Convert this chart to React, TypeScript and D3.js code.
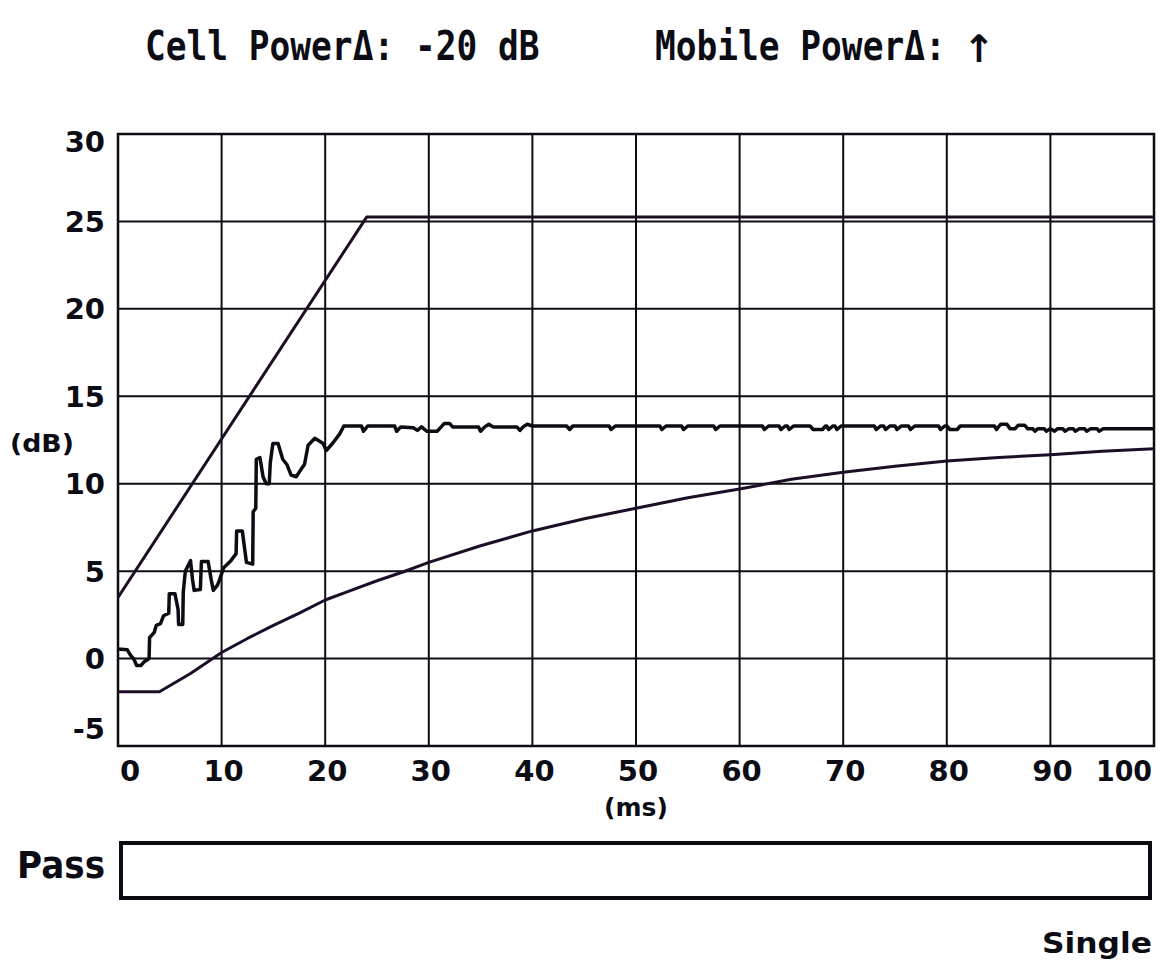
import React from "react";
import * as d3 from "d3";

// Power-step response trace: time (ms) vs relative power (dB)
const xTicks = [0, 10, 20, 30, 40, 50, 60, 70, 80, 90, 100];
const yTicks = [30, 25, 20, 15, 10, 5, 0, -5];

// Upper limit mask
const upperLimit: [number, number][] = [
  [0, 3.5], [24, 25.25], [100, 25.25],
];

// Lower limit mask
const lowerLimit: [number, number][] = [
  [0, -1.9], [4, -1.9], [7, -0.85], [10, 0.35], [12.5, 1.15], [15, 1.9],
  [17.5, 2.6], [20, 3.35], [22.5, 3.9], [25, 4.45], [27.5, 4.95], [30, 5.5],
  [35, 6.45], [40, 7.3], [45, 8.0], [50, 8.6], [55, 9.2], [60, 9.7],
  [65, 10.25], [70, 10.65], [75, 11.0], [80, 11.3], [85, 11.5], [90, 11.65],
  [95, 11.85], [100, 12.0],
];

// Measured mobile power
const measured: [number, number][] = [
  [0, 0.55], [0.9, 0.5], [1.2, 0.2], [1.5, 0.0], [1.8, -0.4], [2.2, -0.4], [2.5, -0.2],
  [3.0, 0.0], [3.05, 1.2], [3.5, 1.5], [3.7, 1.9], [4.1, 2.0], [4.4, 2.45], [4.9, 2.6],
  [4.95, 3.7], [5.5, 3.7], [5.8, 2.8], [5.85, 1.95], [6.25, 1.95], [6.3, 3.8], [6.5, 5.0],
  [7.0, 5.6], [7.2, 4.5], [7.35, 3.9], [7.95, 3.95], [8.05, 5.55], [8.7, 5.55], [9.0, 4.5],
  [9.2, 3.9], [9.6, 4.2], [9.8, 4.5], [10.2, 5.2], [10.9, 5.6], [11.4, 6.0], [11.45, 7.3],
  [12.0, 7.3], [12.2, 6.4], [12.4, 5.5], [13.0, 5.4], [13.05, 8.4], [13.3, 8.6],
  [13.35, 11.4], [13.7, 11.5], [14.0, 10.4], [14.3, 10.0], [14.6, 10.0], [14.7, 11.2],
  [14.95, 12.3], [15.45, 12.3], [15.9, 11.4], [16.3, 11.1], [16.7, 10.5], [17.2, 10.4],
  [17.7, 10.85], [18.0, 11.1], [18.35, 12.2], [19.0, 12.6], [19.8, 12.3], [20.1, 11.9],
  [20.7, 12.3], [21.4, 12.85], [21.8, 13.3], [23.5, 13.3], [23.7, 13.0], [24.1, 13.3],
  [26.7, 13.3], [26.9, 13.0], [27.3, 13.25], [28.5, 13.2], [28.9, 13.05], [29.3, 13.25],
  [29.8, 13.0], [30.8, 13.0], [31.2, 13.25], [31.5, 13.45], [32.0, 13.45], [32.3, 13.25],
  [34.8, 13.25], [35.0, 13.0], [35.4, 13.25], [35.8, 13.4], [36.2, 13.25], [38.5, 13.25],
  [38.8, 13.05], [39.1, 13.25], [39.5, 13.4], [40.0, 13.3], [43.3, 13.3], [43.6, 13.1],
  [43.9, 13.3], [47.4, 13.3], [47.6, 13.1], [48.0, 13.3], [52.3, 13.3], [52.5, 13.1],
  [52.9, 13.3], [54.4, 13.3], [54.6, 13.1], [55.0, 13.3], [57.5, 13.3], [57.7, 13.1],
  [58.1, 13.3], [62.2, 13.3], [62.4, 13.1], [62.8, 13.3], [63.8, 13.3], [64.0, 13.1],
  [64.4, 13.3], [64.6, 13.3], [64.8, 13.1], [65.2, 13.3], [66.8, 13.3], [67.1, 13.1],
  [68.0, 13.1], [68.3, 13.3], [68.4, 13.3], [68.6, 13.1], [69.0, 13.3], [69.2, 13.3],
  [69.4, 13.1], [69.8, 13.3], [73.0, 13.3], [73.2, 13.1], [73.6, 13.3], [73.9, 13.3],
  [74.1, 13.1], [74.5, 13.3], [75.0, 13.3], [75.2, 13.1], [75.6, 13.3], [76.3, 13.3],
  [76.5, 13.1], [76.9, 13.3], [79.2, 13.3], [79.4, 13.1], [79.8, 13.3], [80.0, 13.3],
  [80.3, 13.1], [81.0, 13.1], [81.3, 13.3], [84.6, 13.3], [84.8, 13.1], [85.2, 13.4],
  [85.8, 13.4], [86.1, 13.15], [86.6, 13.15], [86.9, 13.35], [87.5, 13.35], [87.8, 13.15],
  [88.3, 13.15], [88.5, 13.0], [88.8, 13.15], [89.4, 13.15], [89.6, 13.0], [90.0, 13.15],
  [90.4, 13.0], [90.7, 13.15], [91.2, 13.15], [91.4, 13.0], [91.8, 13.15], [92.2, 13.15],
  [92.4, 13.0], [92.8, 13.15], [93.3, 13.15], [93.5, 13.0], [93.9, 13.15], [94.5, 13.15],
  [94.7, 13.0], [95.1, 13.15], [100, 13.15],
];

const titleLeft = "Cell Power\u0394: -20 dB";
const titleRightText = "Mobile Power\u0394:";
const titleRightArrow = "\u2191";

const W = 1160;
const H = 961;
const left = 118;
const right = 1154;
const top = 134;
const bottom = 746;

const mono = "'DejaVu Sans Mono', monospace";
const bold = "'DejaVu Sans', sans-serif";
const ink = "#0c0c14";
const limitInk = "#1d0e26";

export default function App() {
  const x = d3.scaleLinear().domain([0, 100]).range([left, right]);
  const y = d3.scaleLinear().domain([-5, 30]).range([bottom, top]);
  const line = d3
    .line<[number, number]>()
    .x((d) => x(d[0]))
    .y((d) => y(d[1]))
    .curve(d3.curveLinear);

  return (
    <svg
      width={W}
      height={H}
      viewBox={`0 0 ${W} ${H}`}
      style={{ position: "absolute", left: 0, top: 0, background: "#fff" }}
    >
      <defs>
        <clipPath id="plot-clip">
          <rect x={left} y={top} width={right - left} height={bottom - top} />
        </clipPath>
      </defs>

      {/* header: narrow, tall monospace lettering */}
      <g transform="translate(145,60) scale(1,1.18)">
        <text x={0} y={0} fontFamily={mono} fontWeight="bold" fontSize={34.5} fill={ink}>
          {titleLeft}
        </text>
      </g>
      <g transform="translate(655,60) scale(1,1.18)">
        <text x={0} y={0} fontFamily={mono} fontWeight="bold" fontSize={34.5} fill={ink}>
          {titleRightText}
        </text>
      </g>
      <text
        x={979}
        y={62}
        textAnchor="middle"
        fontFamily={bold}
        fontWeight="bold"
        fontSize={38}
        fill={ink}
      >
        {titleRightArrow}
      </text>

      {/* grid */}
      {xTicks.map((t) => (
        <line
          key={`gx${t}`}
          x1={x(t)}
          x2={x(t)}
          y1={top}
          y2={bottom}
          stroke={ink}
          strokeWidth={2}
        />
      ))}
      {yTicks.map((t) => (
        <line
          key={`gy${t}`}
          x1={left}
          x2={right}
          y1={y(t)}
          y2={y(t)}
          stroke={ink}
          strokeWidth={2}
        />
      ))}
      <rect
        x={left}
        y={top}
        width={right - left}
        height={bottom - top}
        fill="none"
        stroke={ink}
        strokeWidth={2.5}
      />

      {/* y tick labels */}
      {yTicks.map((t) => {
        const cy = Math.min(Math.max(y(t), top + 8), bottom - 17);
        return (
          <text
            key={`ty${t}`}
            x={105}
            y={cy}
            dy="0.36em"
            textAnchor="end"
            fontFamily={bold}
            fontWeight="bold"
            fontSize={29}
            fill={ink}
          >
            {t}
          </text>
        );
      })}
      <text
        x={10}
        y={443}
        dy="0.36em"
        fontFamily={bold}
        fontWeight="bold"
        fontSize={24}
        fill={ink}
        textLength={64}
        lengthAdjust="spacingAndGlyphs"
      >
        (dB)
      </text>

      {/* x tick labels */}
      {xTicks.map((t, i) => {
        const anchor = i === 0 ? "start" : i === xTicks.length - 1 ? "end" : "middle";
        const px = i === 0 ? x(t) + 2 : i === xTicks.length - 1 ? right - 2 : x(t) + 2;
        return (
          <text
            key={`tx${t}`}
            x={px}
            y={781}
            textAnchor={anchor}
            fontFamily={bold}
            fontWeight="bold"
            fontSize={29}
            fill={ink}
            textLength={t === 100 ? 56 : undefined}
            lengthAdjust="spacingAndGlyphs"
          >
            {t}
          </text>
        );
      })}
      <text
        x={x(50)}
        y={816}
        textAnchor="middle"
        fontFamily={bold}
        fontWeight="bold"
        fontSize={25}
        fill={ink}
      >
        (ms)
      </text>

      {/* traces */}
      <g clipPath="url(#plot-clip)" fill="none" strokeLinejoin="round">
        <path d={line(upperLimit) ?? ""} stroke={limitInk} strokeWidth={3} />
        <path d={line(lowerLimit) ?? ""} stroke={limitInk} strokeWidth={3} />
        <path d={line(measured) ?? ""} stroke={ink} strokeWidth={3.5} />
      </g>

      {/* verdict bar */}
      <text
        x={17}
        y={878}
        fontFamily={bold}
        fontWeight="bold"
        fontSize={37}
        fill={ink}
        textLength={88}
        lengthAdjust="spacingAndGlyphs"
      >
        Pass
      </text>
      <rect
        x={121}
        y={843}
        width={1029}
        height={55}
        fill="none"
        stroke={ink}
        strokeWidth={4}
      />
      <text
        x={1152}
        y={953}
        textAnchor="end"
        fontFamily={bold}
        fontWeight="bold"
        fontSize={29}
        fill={ink}
        textLength={110}
        lengthAdjust="spacingAndGlyphs"
      >
        Single
      </text>
    </svg>
  );
}
